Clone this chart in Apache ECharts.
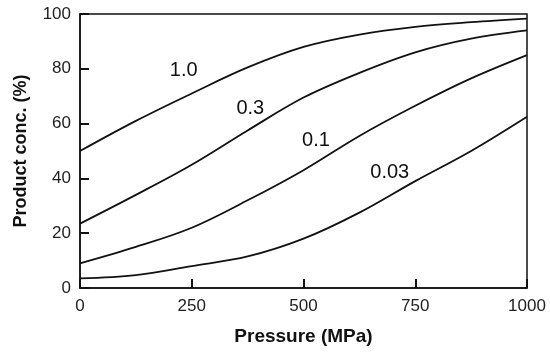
<!DOCTYPE html>
<html>
<head>
<meta charset="utf-8">
<script src="https://cdn.jsdelivr.net/npm/echarts@6/dist/echarts.min.js"></script>
<style>
html,body{margin:0;padding:0;background:#fff;}
#chart{width:550px;height:356px;}
</style>
</head>
<body>
<div id="chart"></div>
<script>
// Data
var pressure = [0, 125, 250, 375, 500, 625, 750, 875, 1000];
var conc_1_0  = [50, 61, 71, 80.5, 88, 92.5, 95.3, 97, 98.3];
var conc_0_3  = [23.5, 34, 45, 57.5, 69.5, 78.5, 86, 91, 94];
var conc_0_1  = [9, 15, 22, 32, 43, 55.5, 66.5, 76.5, 85];
var conc_0_03 = [3.5, 4.7, 8, 11.5, 18, 27.5, 39, 50, 62.5];
var seriesNames = ['1.0', '0.3', '0.1', '0.03'];
// label anchor points (pressure, conc) for each curve label
var labelPressure = [232, 381, 528, 693];
var labelConc = [79.4, 65.6, 53.9, 42.2];
var xTicks = [0, 250, 500, 750, 1000];
var yTicks = [0, 20, 40, 60, 80, 100];

var allData = [conc_1_0, conc_0_3, conc_0_1, conc_0_03];
var FONT = 'Liberation Sans, Arial, Helvetica, sans-serif';

var series = allData.map(function (vals, i) {
  return {
    name: seriesNames[i],
    type: 'line',
    smooth: 0.35,
    symbol: 'none',
    lineStyle: { color: '#111', width: 1.8 },
    data: pressure.map(function (p, j) { return [p, vals[j]]; }),
    markPoint: {
      symbol: 'circle',
      symbolSize: 0,
      silent: true,
      data: [{
        coord: [labelPressure[i], labelConc[i]],
        label: {
          show: true,
          position: 'inside',
          formatter: seriesNames[i],
          color: '#111',
          fontSize: 20,
          fontFamily: FONT
        }
      }]
    }
  };
});

var tickStyle = { show: true, inside: true, length: 9, alignWithLabel: true, lineStyle: { color: '#111', width: 2 } };

var chart = echarts.init(document.getElementById('chart'), null, { renderer: 'canvas' });
chart.setOption({
  animation: false,
  backgroundColor: '#fff',
  grid: {
    left: 80, right: 23, top: 14, bottom: 68,
    show: true, borderColor: '#111', borderWidth: 1.5, backgroundColor: 'transparent'
  },
  xAxis: {
    type: 'value', min: 0, max: 1000, interval: 250,
    name: 'Pressure (MPa)', nameLocation: 'middle', nameGap: 39,
    nameTextStyle: { fontSize: 19, fontWeight: 'bold', color: '#111', fontFamily: FONT },
    axisLine: { show: true, onZero: false, lineStyle: { color: '#111', width: 1.5 } },
    axisTick: tickStyle,
    axisLabel: {
      margin: 10, fontSize: 17, color: '#222', fontFamily: FONT,
      formatter: function (v) { return xTicks.indexOf(v) >= 0 ? String(v) : ''; }
    },
    splitLine: { show: false }
  },
  yAxis: {
    type: 'value', min: 0, max: 100, interval: 20,
    name: 'Product conc. (%)', nameLocation: 'middle', nameGap: 50,
    nameTextStyle: { fontSize: 18, fontWeight: 'bold', color: '#111', fontFamily: FONT },
    axisLine: { show: true, onZero: false, lineStyle: { color: '#111', width: 1.5 } },
    axisTick: tickStyle,
    axisLabel: {
      margin: 9, fontSize: 17, color: '#222', fontFamily: FONT,
      formatter: function (v) { return yTicks.indexOf(v) >= 0 ? String(v) : ''; }
    },
    splitLine: { show: false }
  },
  series: series
});
</script>
</body>
</html>
